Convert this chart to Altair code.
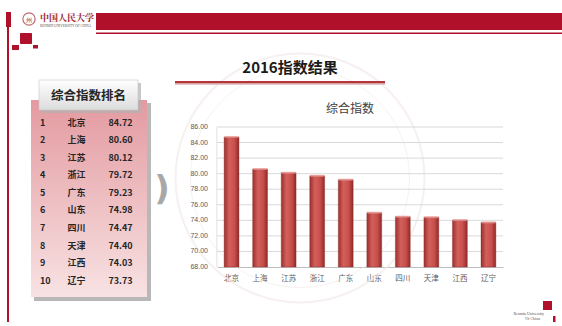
import altair as alt
import pandas as pd

# ---------------- data ----------------
provinces = ["北京", "上海", "江苏", "浙江", "广东", "山东", "四川", "天津", "江西", "辽宁"]
index_values = [84.72, 80.60, 80.12, 79.72, 79.23, 74.98, 74.47, 74.40, 74.03, 73.73]
ranks = [1, 2, 3, 4, 5, 6, 7, 8, 9, 10]
y_ticks = [68, 70, 72, 74, 76, 78, 80, 82, 84, 86]
y_tick_labels = ["68.00", "70.00", "72.00", "74.00", "76.00", "78.00", "80.00", "82.00", "84.00", "86.00"]

main_title = "2016指数结果"
chart_title = "综合指数"
table_title = "综合指数排名"

df = pd.DataFrame({"province": provinces, "value": index_values, "rank": ranks,
                   "value_label": [f"{v:.2f}" for v in index_values]})
ticks_df = pd.DataFrame({"value": y_ticks, "label": y_tick_labels})

# ---------------- layout ----------------
L, T, R, B = 217, 127, 503, 267
PW, PH = R - L, B - T
CJK = "Noto Sans CJK SC"
RED = "#b0102a"


def px(X):
    return X - L


def py(Y):
    return Y - T


one = pd.DataFrame({"k": [0]})


def rect(x1, y1, x2, y2, color, **kw):
    return alt.Chart(one).mark_rect(color=color, **kw).encode(
        x=alt.value(px(x1)), x2=alt.value(px(x2)),
        y=alt.value(py(y1)), y2=alt.value(py(y2)))


def text(X, Y, s, **kw):
    return alt.Chart(one).mark_text(text=s, **kw).encode(
        x=alt.value(px(X)), y=alt.value(py(Y)))


def vgrad(c1, c2):
    return alt.Gradient(gradient="linear", x1=0, x2=0, y1=0, y2=1,
                        stops=[alt.GradientStop(color=c1, offset=0),
                               alt.GradientStop(color=c2, offset=1)])


bar_grad = alt.Gradient(
    gradient="linear", x1=0, x2=1, y1=0, y2=0,
    stops=[alt.GradientStop(color="#9e2f2d", offset=0),
           alt.GradientStop(color="#d2605c", offset=0.35),
           alt.GradientStop(color="#c94f4b", offset=0.7),
           alt.GradientStop(color="#8f2a28", offset=1)])

decor = []
# watermark seal (faint)
decor.append(alt.Chart(one).mark_point(shape="circle", size=62000, filled=False,
                                       color="#f4eaea", strokeWidth=2).encode(
    x=alt.value(px(300)), y=alt.value(py(178))))
decor.append(alt.Chart(one).mark_point(shape="circle", size=48000, filled=False,
                                       color="#f6eeee", strokeWidth=1).encode(
    x=alt.value(px(300)), y=alt.value(py(178))))

# header
decor.append(rect(96, 13, 562, 30, RED))
decor.append(rect(96, 32.5, 562, 34, RED))
decor.append(rect(7, 12, 9, 322, RED))
decor.append(rect(6, 12, 11, 27, RED))
decor.append(rect(20, 33, 32, 44, RED, cornerRadius=1))
decor.append(rect(12, 45, 19, 50, RED))
decor.append(rect(33, 45, 38, 48.5, RED))
# logo
decor.append(alt.Chart(one).mark_point(shape="circle", size=150, filled=False,
                                       color="#a0303a", strokeWidth=1.2).encode(
    x=alt.value(px(29)), y=alt.value(py(19))))
decor.append(text(29, 19.5, "州", font=CJK, fontSize=6, color="#a0303a"))
decor.append(text(40, 18, "中国人民大学", font="Noto Serif CJK SC, " + CJK, fontSize=9,
                  fontWeight="bold", color="#9c1c2c", align="left", baseline="middle"))
decor.append(text(40, 26, "RENMIN UNIVERSITY OF CHINA", font="Liberation Serif", fontSize=3.4,
                  color="#555555", align="left", baseline="middle"))
# bottom-right logo
decor.append(rect(543, 301, 552, 310, RED))
decor.append(rect(553, 316, 555.5, 322, RED))
decor.append(text(544, 314, "Renmin University", font="Liberation Serif", fontSize=4,
                  color="#555555", align="right", baseline="middle"))
decor.append(text(540, 319, "Of China", font="Liberation Serif", fontSize=4,
                  color="#555555", align="right", baseline="middle"))

# main title + underline
decor.append(text(290, 68, main_title, font=CJK, fontSize=15, fontWeight="bold",
                  color="#1a1a1a", baseline="middle"))
decor.append(rect(175, 82.5, 385, 85, "#e3c6c6"))
decor.append(rect(175, 81, 385, 83.3, "#b3363c"))

# chart title
decor.append(text(350, 109, chart_title, font=CJK, fontSize=12, color="#404040",
                  baseline="middle"))

# table box
decor.append(rect(34, 103, 151, 301, "#a6a6a6", opacity=0.8))
decor.append(rect(31, 100, 147, 297, vgrad("#e39aa0", "#f8e2e3")))
decor.append(rect(42, 83, 141, 113, "#b0b0b0", opacity=0.7))
decor.append(rect(39, 80, 138, 110, vgrad("#ffffff", "#dcdcdc"), stroke="#c8c8c8", strokeWidth=0.6))
decor.append(text(88.5, 95.5, table_title, font=CJK, fontSize=12.5, fontWeight="bold",
                  color="#262626", baseline="middle"))

# crescent
decor.append(text(162, 190, ")", font="DejaVu Sans", fontSize=34, fontWeight="bold",
                  color="#a8a8a8", baseline="middle"))

# left axis line of the plot
decor.append(rect(216.5, 127, 217.3, 267, "#d9d9d9"))

# table rows (from data)
row_y = alt.Y("rank:Q", scale=alt.Scale(domain=[1, 10], range=[py(122.7), py(280.7)]), axis=None)
tbl_base = alt.Chart(df)
tbl_rank = tbl_base.mark_text(font=CJK, fontSize=9, fontWeight="bold", color="#262626",
                              align="left", baseline="middle").encode(
    y=row_y, x=alt.value(px(40)), text="rank:N")
tbl_name = tbl_base.mark_text(font=CJK, fontSize=9, fontWeight="bold", color="#262626",
                              align="center", baseline="middle").encode(
    y=row_y, x=alt.value(px(76.5)), text="province:N")
tbl_val = tbl_base.mark_text(font=CJK, fontSize=9, fontWeight="bold", color="#262626",
                             align="center", baseline="middle").encode(
    y=row_y, x=alt.value(px(120.5)), text="value_label:N")
table = alt.layer(tbl_rank, tbl_name, tbl_val)

# bar chart
yscale = alt.Scale(domain=[68, 86], nice=False, zero=False)
xenc = alt.X("province:N", sort=provinces,
             scale=alt.Scale(paddingInner=0.48, paddingOuter=0.25),
             axis=alt.Axis(title=None, labelAngle=0, labelFont=CJK, labelFontSize=7.5,
                           labelColor="#595959", ticks=False, labelPadding=7,
                           domainColor="#bfbfbf", domainWidth=1, grid=False))
grid = alt.Chart(ticks_df).transform_filter("datum.value > 68").mark_rule(
    color="#d9d9d9", strokeWidth=1).encode(
    y=alt.Y("value:Q", scale=yscale, axis=None))
ylabels = alt.Chart(ticks_df).mark_text(font="Liberation Sans", fontSize=7, color="#595959",
                                        align="right", baseline="middle").encode(
    y=alt.Y("value:Q", scale=yscale, axis=None), x=alt.value(-9), text="label:N")
bars = alt.Chart(df).mark_bar(color=bar_grad, stroke="#8a2a28", strokeWidth=0.4).encode(
    x=xenc, y=alt.Y("value:Q", scale=yscale, axis=None), y2=alt.datum(68))
caps = alt.Chart(df).mark_tick(color="#ec9a97", thickness=2, size=14).encode(
    x=alt.X("province:N", sort=provinces), y=alt.Y("value:Q"))
barchart = alt.layer(grid, ylabels, bars, caps)

chart = alt.layer(*decor, table, barchart).resolve_scale(y="independent").properties(
    width=PW, height=PH,
    autosize=alt.AutoSizeParams(type="none"),
    padding={"left": L, "top": T, "right": 562 - R, "bottom": 326 - B},
    background="white",
).configure_view(stroke=None)

chart.save("out.html", embed_options={"renderer": "svg", "actions": False})
